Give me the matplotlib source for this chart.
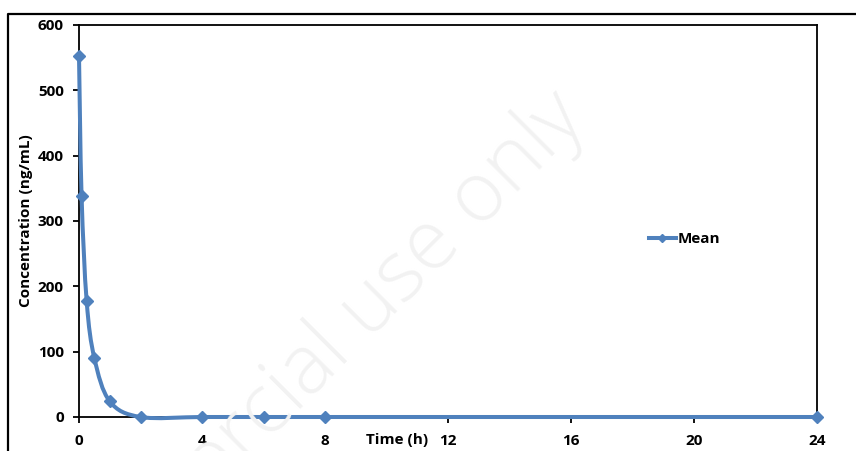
import matplotlib
matplotlib.use("Agg")
import matplotlib.pyplot as plt
from matplotlib.path import Path
from matplotlib.patches import PathPatch
from matplotlib.lines import Line2D
import numpy as np

# ---- data ----
time_h = [0, 0.083, 0.25, 0.5, 1, 2, 4, 6, 8, 24]
conc_mean = [553, 339, 177, 90, 24, 0, 0, 0, 0, 0]
x_ticks = [0, 4, 8, 12, 16, 20, 24]
y_ticks = [0, 100, 200, 300, 400, 500, 600]
series_name = "Mean"
x_label = "Time (h)"
y_label = "Concentration (ng/mL)"
watermark = "Non-commercial use only"

BLUE = "#4F81BD"
FONT = ["Open Sans", "DejaVu Sans"]
plt.rcParams["font.family"] = FONT

W, H = 856, 451
fig = plt.figure(figsize=(W / 100, H / 100), dpi=100)
ax = fig.add_axes([79 / W, 1 - 417 / H, (817 - 79) / W, (417 - 25) / H])

# watermark
fig.text(588 / W, 1 - 121 / H, watermark, rotation=45, rotation_mode="anchor",
         ha="right", va="baseline", fontsize=60, color="#f2f2f2",
         family=["Open Sans", "DejaVu Sans"], weight="light", zorder=0)

# outer frame
fig.add_artist(Line2D([8 / W, 8 / W, 1], [0, 1 - 14 / H, 1 - 14 / H],
                      transform=fig.transFigure, color="black", lw=1.6))

# smoothed (Excel-style) curve through the data points
pts = np.column_stack([time_h, conc_mean]).astype(float)
n = len(pts)
verts = [tuple(pts[0])]
codes = [Path.MOVETO]
for i in range(n - 1):
    p0 = pts[i - 1] if i > 0 else pts[i]
    p1 = pts[i]
    p2 = pts[i + 1]
    p3 = pts[i + 2] if i + 2 < n else pts[i + 1]
    c1 = p1 + (p2 - p0) / 6.0
    c2 = p2 - (p3 - p1) / 6.0
    verts += [tuple(c1), tuple(c2), tuple(p2)]
    codes += [Path.CURVE4] * 3
patch = PathPatch(Path(verts, codes), facecolor="none", edgecolor=BLUE,
                  lw=2.9, clip_on=False, zorder=3, capstyle="round")
ax.add_patch(patch)
ax.plot(time_h, conc_mean, linestyle="none", marker="D", markersize=6.2,
        color=BLUE, clip_on=False, zorder=4)

ax.set_xlim(0, 24)
ax.set_ylim(0, 600)
ax.set_xticks(x_ticks)
ax.set_yticks(y_ticks)
ax.set_xticklabels([str(v) for v in x_ticks])
ax.set_yticklabels([str(v) for v in y_ticks])
for s in ax.spines.values():
    s.set_color("black")
    s.set_linewidth(1.3)
ax.tick_params(axis="both", direction="out", length=4, width=1.3,
               labelsize=11, colors="black")
ax.tick_params(axis="y", pad=7)
ax.tick_params(axis="x", pad=8)
for lab in ax.get_xticklabels() + ax.get_yticklabels():
    lab.set_fontweight("bold")

ax.set_ylabel(y_label, fontsize=11, fontweight="bold")
ax.yaxis.set_label_coords(-0.063, 0.5)
ax.set_xlabel(x_label, fontsize=11, fontweight="bold")
ax.xaxis.label.set_va("center")
ax.xaxis.set_label_coords(0.431, -0.058)

handle = Line2D([], [], color=BLUE, lw=2.9, marker="D", markersize=4.5)
leg = fig.legend([handle], [series_name], loc="center left",
                 bbox_to_anchor=(649 / W, 1 - 239 / H), frameon=False,
                 borderpad=0, borderaxespad=0, handlelength=1.75,
                 handletextpad=0.1, prop={"family": FONT, "weight": "bold", "size": 11})

fig.savefig("out.png", dpi=100)
